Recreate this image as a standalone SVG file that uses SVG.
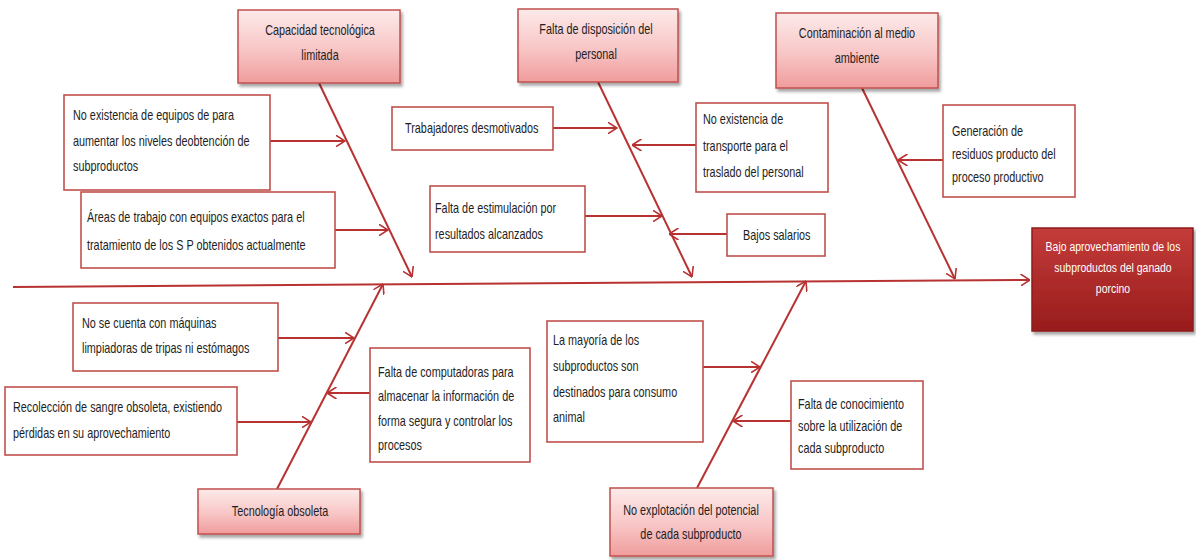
<svg xmlns="http://www.w3.org/2000/svg" width="1196" height="560" viewBox="0 0 1196 560">
<style>
text{font-family:"Liberation Sans",Arial,sans-serif;font-size:14px;fill:#1e1e1e}
.c{text-anchor:middle}
.w{fill:#ffffff;font-size:13.5px}
.cat{fill:url(#pink);stroke:#c0504d;stroke-width:1.5;filter:url(#sh)}
.eff{fill:url(#red);stroke:#8e1c1c;stroke-width:1.5;filter:url(#sh)}
.box{fill:#ffffff;stroke:#c0504d;stroke-width:1.6}
.ar{stroke:#b83232;stroke-width:2;fill:none;marker-end:url(#ah)}
</style>
<defs>
<linearGradient id="pink" x1="0" y1="0" x2="0" y2="1">
<stop offset="0" stop-color="#fdeaea"/>
<stop offset="0.55" stop-color="#f8c5c5"/>
<stop offset="1" stop-color="#f09c9c"/>
</linearGradient>
<linearGradient id="red" x1="0" y1="0" x2="0" y2="1">
<stop offset="0" stop-color="#c43c3a"/>
<stop offset="1" stop-color="#981c1c"/>
</linearGradient>
<filter id="sh" x="-10%" y="-10%" width="125%" height="130%">
<feDropShadow dx="2" dy="3" stdDeviation="1.5" flood-color="#000" flood-opacity="0.35"/>
</filter>
<marker id="ah" viewBox="0 0 10 12" refX="9.5" refY="6" markerWidth="10" markerHeight="12" markerUnits="userSpaceOnUse" orient="auto">
<path d="M0,0 L9.5,6 L0,12" fill="none" stroke="#b83232" stroke-width="1.6"/>
</marker>
</defs>
<rect width="1196" height="560" fill="#ffffff"/>

<g id="connectors">
<line class="ar" x1="13" y1="287" x2="1030" y2="280"/>
<line class="ar" x1="319" y1="83" x2="412" y2="277"/>
<line class="ar" x1="598" y1="82" x2="692" y2="277"/>
<line class="ar" x1="862" y1="88" x2="955" y2="279"/>
<line class="ar" x1="277" y1="489" x2="383" y2="284"/>
<line class="ar" x1="697" y1="488" x2="806" y2="281"/>
<line class="ar" x1="270" y1="141" x2="345" y2="141"/>
<line class="ar" x1="335" y1="230" x2="388" y2="230"/>
<line class="ar" x1="553" y1="128" x2="617" y2="128"/>
<line class="ar" x1="696" y1="145" x2="632" y2="145"/>
<line class="ar" x1="585" y1="216" x2="662" y2="216"/>
<line class="ar" x1="727" y1="234" x2="669" y2="234"/>
<line class="ar" x1="943" y1="160" x2="898" y2="160"/>
<line class="ar" x1="278" y1="338" x2="354" y2="338"/>
<line class="ar" x1="237" y1="422" x2="311" y2="422"/>
<line class="ar" x1="370" y1="393" x2="327" y2="393"/>
<line class="ar" x1="703" y1="367" x2="760" y2="367"/>
<line class="ar" x1="791" y1="421" x2="733" y2="421"/>
</g>

<g id="cat-capacidad">
<rect class="cat" x="238" y="10" width="162" height="73"/>
<g transform="translate(320,0) scale(0.775,1)">
<text class="c" x="0" y="35">Capacidad tecnológica</text>
<text class="c" x="0" y="60">limitada</text>
</g>
</g>
<g id="cat-disposicion">
<rect class="cat" x="518" y="9" width="160" height="73"/>
<g transform="translate(596,0) scale(0.775,1)">
<text class="c" x="0" y="34">Falta de disposición del</text>
<text class="c" x="0" y="59">personal</text>
</g>
</g>
<g id="cat-contaminacion">
<rect class="cat" x="776" y="13" width="162" height="75"/>
<g transform="translate(857,0) scale(0.775,1)">
<text class="c" x="0" y="38">Contaminación al medio</text>
<text class="c" x="0" y="63">ambiente</text>
</g>
</g>
<g id="cat-tecnologia">
<rect class="cat" x="198" y="489" width="162" height="45"/>
<g transform="translate(280,0) scale(0.775,1)">
<text class="c" x="0" y="516">Tecnología obsoleta</text>
</g>
</g>
<g id="cat-explotacion">
<rect class="cat" x="610" y="488" width="163" height="68"/>
<g transform="translate(691,0) scale(0.775,1)">
<text class="c" x="0" y="515">No explotación del potencial</text>
<text class="c" x="0" y="539">de cada subproducto</text>
</g>
</g>
<g id="effect">
<rect class="eff" x="1032" y="228" width="161" height="103"/>
<g transform="translate(1113,0) scale(0.775,1)">
<text class="c w" x="0" y="251">Bajo aprovechamiento de los</text>
<text class="c w" x="0" y="272">subproductos del ganado</text>
<text class="c w" x="0" y="293">porcino</text>
</g>
</g>

<g id="c-equipos">
<rect class="box" x="64" y="95" width="206" height="95"/>
<g transform="translate(73,0) scale(0.775,1)">
<text x="0" y="120">No existencia de equipos de  para</text>
<text x="0" y="146">aumentar los niveles deobtención de</text>
<text x="0" y="171">subproductos</text>
</g>
</g>
<g id="c-areas">
<rect class="box" x="81" y="192" width="254" height="76"/>
<g transform="translate(87,0) scale(0.775,1)">
<text x="0" y="222">Áreas de trabajo con equipos exactos para el</text>
<text x="0" y="250">tratamiento de los S P obtenidos actualmente</text>
</g>
</g>
<g id="c-trabajadores">
<rect class="box" x="392" y="107" width="161" height="43"/>
<g transform="translate(405,0) scale(0.775,1)">
<text x="0" y="133">Trabajadores desmotivados</text>
</g>
</g>
<g id="c-transporte">
<rect class="box" x="696" y="103" width="132" height="89"/>
<g transform="translate(703,0) scale(0.775,1)">
<text x="0" y="124">No existencia de</text>
<text x="0" y="151">transporte para el</text>
<text x="0" y="177">traslado del personal</text>
</g>
</g>
<g id="c-estimulacion">
<rect class="box" x="430" y="186" width="155" height="66"/>
<g transform="translate(435,0) scale(0.775,1)">
<text x="0" y="213">Falta de estimulación por</text>
<text x="0" y="239">resultados alcanzados</text>
</g>
</g>
<g id="c-salarios">
<rect class="box" x="727" y="214" width="98" height="42"/>
<g transform="translate(743,0) scale(0.775,1)">
<text x="0" y="240">Bajos salarios</text>
</g>
</g>
<g id="c-residuos">
<rect class="box" x="943" y="105" width="132" height="92"/>
<g transform="translate(952,0) scale(0.775,1)">
<text x="0" y="136">Generación de</text>
<text x="0" y="159">residuos producto del</text>
<text x="0" y="182">proceso productivo</text>
</g>
</g>
<g id="c-maquinas">
<rect class="box" x="73" y="303" width="205" height="68"/>
<g transform="translate(82,0) scale(0.775,1)">
<text x="0" y="328">No se cuenta con máquinas</text>
<text x="0" y="353">limpiadoras de tripas ni estómagos</text>
</g>
</g>
<g id="c-sangre">
<rect class="box" x="5" y="387" width="232" height="68"/>
<g transform="translate(13,0) scale(0.775,1)">
<text x="0" y="412">Recolección de sangre obsoleta, existiendo</text>
<text x="0" y="438">pérdidas en su aprovechamiento</text>
</g>
</g>
<g id="c-computadoras">
<rect class="box" x="370" y="348" width="160" height="114"/>
<g transform="translate(378,0) scale(0.775,1)">
<text x="0" y="377">Falta de computadoras para</text>
<text x="0" y="401">almacenar la información de</text>
<text x="0" y="426">forma segura y controlar los</text>
<text x="0" y="450">procesos</text>
</g>
</g>
<g id="c-consumo">
<rect class="box" x="547" y="321" width="156" height="121"/>
<g transform="translate(553,0) scale(0.775,1)">
<text x="0" y="345">La mayoría de los</text>
<text x="0" y="371">subproductos  son</text>
<text x="0" y="397">destinados  para consumo</text>
<text x="0" y="422">animal</text>
</g>
</g>
<g id="c-conocimiento">
<rect class="box" x="791" y="381" width="132" height="88"/>
<g transform="translate(798,0) scale(0.775,1)">
<text x="0" y="409">Falta de conocimiento</text>
<text x="0" y="431">sobre la utilización de</text>
<text x="0" y="453">cada subproducto</text>
</g>
</g>
</svg>
